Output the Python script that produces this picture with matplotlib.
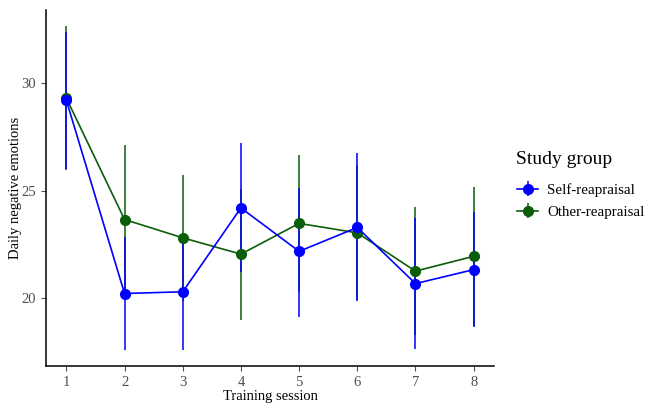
import matplotlib.pyplot as plt
import numpy as np

plt.rcParams['font.family'] = ['Liberation Serif', 'DejaVu Serif']

# training sessions
sessions = [1, 2, 3, 4, 5, 6, 7, 8]

# self-reapraisal group: mean and interval ends
self_mean = [29.2, 20.22, 20.3, 24.2, 22.18, 23.29, 20.68, 21.33]
self_low = [26.0, 17.58, 17.58, 21.22, 19.13, 19.86, 17.62, 18.66]
self_high = [32.4, 22.86, 23.0, 27.2, 25.13, 26.73, 23.74, 24.0]

# other-reapraisal group
other_mean = [29.3, 23.66, 22.81, 22.05, 23.48, 23.04, 21.26, 21.95]
other_low = [25.95, 20.2, 19.87, 19.0, 20.31, 19.9, 18.3, 18.72]
other_high = [32.65, 27.12, 25.75, 25.1, 26.65, 26.2, 24.22, 25.18]

fig = plt.figure(figsize=(6.46, 4.04), dpi=100)
ax = fig.add_axes([46/646, 38/404, 448/646, 356/404])

def draw(mean, low, high, color, label):
    mean = np.array(mean)
    err = [mean - np.array(low), np.array(high) - mean]
    return ax.errorbar(sessions, mean, yerr=err, color=color, ecolor=color,
                       elinewidth=1.1, linewidth=1.2, marker='o', markersize=7,
                       capsize=0, label=label)

h2 = draw(other_mean, other_low, other_high, '#0B5D0B', 'Other-reapraisal')
h1 = draw(self_mean, self_low, self_high, '#0000FF', 'Self-reapraisal')

ax.set_xlim(0.65, 8.35)
ax.set_ylim(16.85, 33.4)
ax.set_xticks(sessions)
ax.set_yticks([20, 25, 30])
ax.tick_params(colors='#4D4D4D', labelsize=10.5, length=3.5, width=0.8)
for s in ['top', 'right']:
    ax.spines[s].set_visible(False)
for s in ['left', 'bottom']:
    ax.spines[s].set_linewidth(1.1)
ax.set_xlabel('Training session', fontsize=10.5, labelpad=1)
ax.set_ylabel('Daily negative emotions', fontsize=10.5, labelpad=0)

# legend title placed by hand, entries below it
fig.text(516/646, 1 - 160/404, 'Study group', fontsize=14, va='center', ha='left')
leg = fig.legend([h1, h2], ['Self-reapraisal', 'Other-reapraisal'],
                 loc='center left', bbox_to_anchor=(517/646, 1 - 201/404),
                 frameon=False, fontsize=10.8, handlelength=1.4,
                 handletextpad=0.6, labelspacing=0.55, borderpad=0,
                 borderaxespad=0)

fig.savefig('out.png', dpi=100)
